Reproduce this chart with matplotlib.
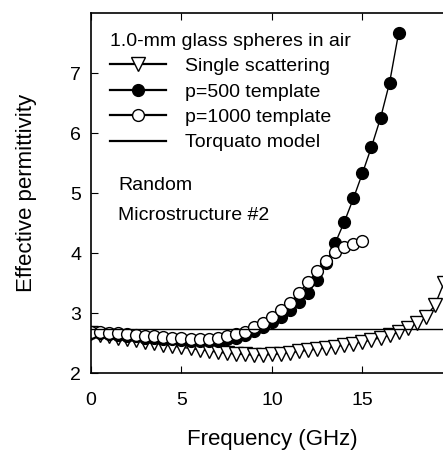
import matplotlib
matplotlib.use("Agg")
import matplotlib.pyplot as plt

plt.rcParams["font.family"] = ["Liberation Sans", "DejaVu Sans"]

# frequency (GHz)
freq_p500 = [0, 0.5, 1, 1.5, 2, 2.5, 3, 3.5, 4, 4.5, 5, 5.5, 6, 6.5, 7, 7.5, 8, 8.5,
             9, 9.5, 10, 10.5, 11, 11.5, 12, 12.5, 13, 13.5, 14, 14.5, 15, 15.5, 16, 16.5, 17]
eps_p500 = [2.67, 2.66, 2.65, 2.64, 2.62, 2.61, 2.59, 2.58, 2.57, 2.56, 2.55, 2.54, 2.53, 2.53,
            2.54, 2.56, 2.59, 2.63, 2.70, 2.77, 2.85, 2.94, 3.05, 3.19, 3.33, 3.55, 3.84, 4.17,
            4.52, 4.91, 5.33, 5.77, 6.25, 6.84, 7.67]

freq_p1000 = [0, 0.5, 1, 1.5, 2, 2.5, 3, 3.5, 4, 4.5, 5, 5.5, 6, 6.5, 7, 7.5, 8, 8.5,
              9, 9.5, 10, 10.5, 11, 11.5, 12, 12.5, 13, 13.5, 14, 14.5, 15]
eps_p1000 = [2.68, 2.68, 2.67, 2.66, 2.65, 2.64, 2.62, 2.61, 2.60, 2.59, 2.58, 2.57, 2.57, 2.57,
             2.58, 2.61, 2.65, 2.69, 2.77, 2.83, 2.93, 3.05, 3.17, 3.34, 3.52, 3.70, 3.87, 4.01,
             4.10, 4.15, 4.20]

freq_single = [0, 0.5, 1, 1.5, 2, 2.5, 3, 3.5, 4, 4.5, 5, 5.5, 6, 6.5, 7, 7.5, 8, 8.5,
               9, 9.5, 10, 10.5, 11, 11.5, 12, 12.5, 13, 13.5, 14, 14.5, 15, 15.5, 16, 16.5,
               17, 17.5, 18, 18.5, 19, 19.5]
eps_single = [2.66, 2.64, 2.62, 2.59, 2.57, 2.55, 2.52, 2.50, 2.47, 2.45, 2.43, 2.41, 2.39, 2.37,
              2.35, 2.33, 2.32, 2.31, 2.30, 2.30, 2.31, 2.32, 2.34, 2.36, 2.38, 2.40, 2.42, 2.44,
              2.47, 2.49, 2.52, 2.55, 2.59, 2.63, 2.68, 2.75, 2.83, 2.94, 3.13, 3.50]

torquato_eps = 2.73

fig = plt.figure(figsize=(4.43, 4.5), dpi=100)
ax = fig.add_axes([0.2054, 0.171, 0.817, 0.80])

ax.plot(freq_single, eps_single, color="black", lw=1, marker="v", ms=9.5,
        mfc="white", mec="black", mew=1, label="Single scattering")
ax.plot(freq_p500, eps_p500, color="black", lw=1, marker="o", ms=8.5,
        mfc="black", mec="black", mew=1, label="p=500 template")
ax.plot(freq_p1000, eps_p1000, color="black", lw=1, marker="o", ms=8.5,
        mfc="white", mec="black", mew=1, label="p=1000 template")
ax.axhline(torquato_eps, color="black", lw=1, label="Torquato model")

ax.set_xlim(0, 20)
ax.set_ylim(2, 8)
ax.set_xticks([0, 5, 10, 15])
ax.set_yticks([2, 3, 4, 5, 6, 7])
ax.tick_params(axis="x", direction="in", length=5, top=True, labelsize=14, pad=14)
ax.tick_params(axis="y", direction="in", length=5, labelsize=14, pad=7)
ax.spines["right"].set_visible(False)
for s in ax.spines.values():
    s.set_linewidth(1.2)

ax.set_xlabel("Frequency (GHz)", fontsize=16, labelpad=14)
ax.set_ylabel("Effective permittivity", fontsize=16, labelpad=24)

leg = ax.legend(title="1.0-mm glass spheres in air", loc="upper left",
                bbox_to_anchor=(0.053, 0.945), frameon=False, fontsize=14,
                title_fontsize=14, alignment="left", handlelength=2.85,
                handletextpad=1.0, labelspacing=0.4, borderpad=0, borderaxespad=0)
for h in leg.legend_handles:
    h.set_linewidth(1.6)

ax.text(0.075, 0.522, "Random", transform=ax.transAxes, fontsize=14, va="center")
ax.text(0.075, 0.439, "Microstructure #2", transform=ax.transAxes, fontsize=14, va="center")

fig.savefig("out.png", dpi=100)
